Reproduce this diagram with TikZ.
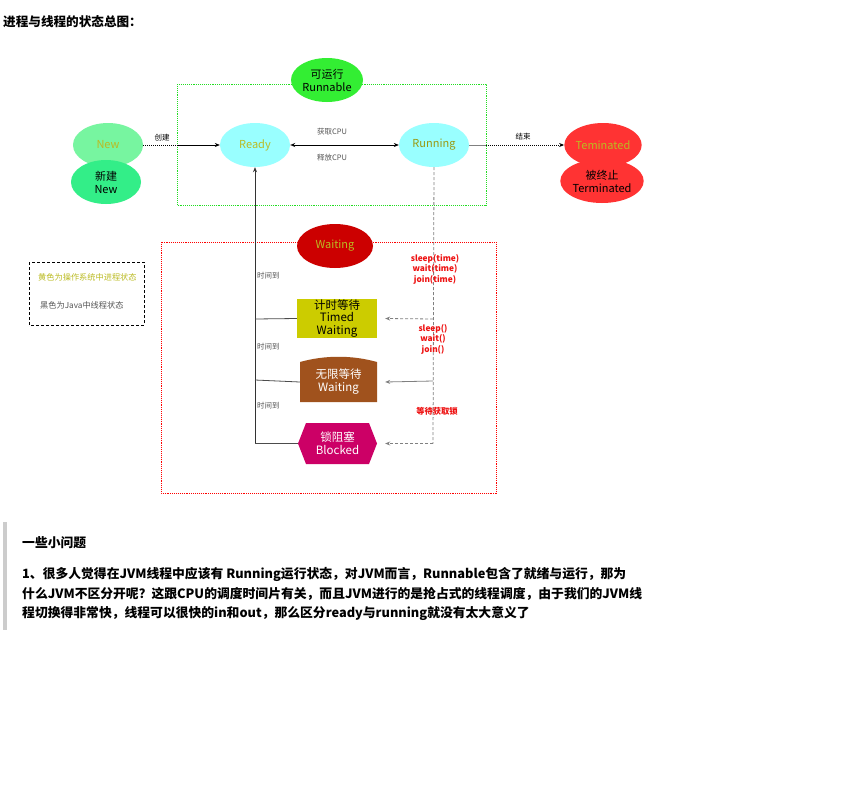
\documentclass[tikz,border=0pt]{standalone}
\usepackage{fontspec}
\setmainfont{Noto Sans CJK SC}
\usetikzlibrary{arrows.meta,shapes.geometric}
\definecolor{boxgreen}{HTML}{22DD22}
\definecolor{runfill}{HTML}{33EE33}
\definecolor{newfill}{HTML}{77F5A0}
\definecolor{newfillb}{HTML}{33EE88}
\definecolor{cyanfill}{HTML}{99FFFF}
\definecolor{termfill}{HTML}{FF3333}
\definecolor{waitfill}{HTML}{CC0000}
\definecolor{timedfill}{HTML}{CCCC00}
\definecolor{brownfill}{HTML}{A0521D}
\definecolor{blockfill}{HTML}{CC0066}
\definecolor{olive}{HTML}{BBBB22}
\definecolor{olivedark}{HTML}{999911}
\definecolor{redtxt}{HTML}{EE1111}
\definecolor{graytxt}{HTML}{555555}
\tikzset{
  stateell/.style={ellipse, draw=none, minimum width=70pt, minimum height=44pt, inner sep=0pt, align=center, font=\fontsize{11}{13}\selectfont},
  smalllbl/.style={font=\fontsize{7.5}{9}\selectfont, text=graytxt, inner sep=1pt},
  redlbl/.style={font=\fontsize{8.3}{10.5}\selectfont\bfseries, text=redtxt, align=center, inner sep=1pt},
  para/.style={anchor=west, font=\fontsize{12.8}{14}\selectfont\bfseries, inner sep=0pt},
  tipA/.style={-{Stealth[length=5pt,width=4pt]}},
  boxtxt/.style={inner sep=0pt, align=center, font=\fontsize{11.5}{13}\selectfont},
}
\begin{document}
\begin{tikzpicture}[x=1pt,y=-1pt]
\useasboundingbox (0,0) rectangle (845,787);
\fill[white] (0,0) rectangle (845,787);

% title
\node[anchor=west, font=\fontsize{12.6}{14}\selectfont\bfseries, inner sep=0pt] (title) at (3,22) {进程与线程的状态总图：};

% group boxes
\draw[boxgreen, densely dotted, line width=0.9pt] (177,84) rectangle (486,205);
\draw[red, densely dotted, line width=0.9pt] (161,242) rectangle (496,493);

% Runnable
\node[stateell, fill=runfill, minimum width=72pt] (runnable) at (327,80) {可运行\\Runnable};

% New
\node[stateell, fill=newfill] (new) at (108,145) {\textcolor{olive}{New}};
\node[stateell, fill=newfillb] (newb) at (106,182) {新建\\New};

% Ready, Running
\node[stateell, fill=cyanfill] (ready) at (255,145) {\textcolor{olive}{Ready}};
\node[stateell, fill=cyanfill] (running) at (434,145) {\textcolor{olivedark}{Running}};

% Terminated
\node[stateell, fill=termfill] (term) at (603,145) {\textcolor{olive}{Teminated}};
\node[stateell, fill=termfill] (termb) at (602,181) {被终止\\Terminated};

% Waiting
\node[stateell, fill=waitfill, minimum width=76pt] (waiting) at (335,246) {\textcolor{olive}{Waiting}};

% Timed waiting
\node[boxtxt, fill=timedfill, minimum width=80pt, minimum height=39pt, font=\fontsize{11.5}{12.5}\selectfont] (timed) at (337,318.5) {计时等待\\Timed\\Waiting};

% Waiting (brown, curved top)
\fill[brownfill] (300,402) -- (300,362) .. controls (325,355) and (352,355) .. (377,362) -- (377,402) -- cycle;
\node[boxtxt, minimum width=77pt, minimum height=40pt, text=white] (inf) at (338.5,382) {无限等待\\Waiting};

% Blocked hexagon
\fill[blockfill] (298,443.5) -- (306,423) -- (369,423) -- (377,443.5) -- (369,464) -- (306,464) -- cycle;
\node[boxtxt, minimum width=79pt, minimum height=41pt, text=white] (blocked) at (337.5,443.5) {锁阻塞\\Blocked};

% connectors: New -> Ready
\coordinate (gL) at (177,145);
\draw[densely dotted, line width=1pt] (new.east) -- (gL);
\draw[tipA, line width=0.6pt] (gL) -- (ready.west);
\node[smalllbl, text=black] (lnew) at (162,138) {创建};

% Ready <-> Running
\draw[{Stealth[length=5pt,width=4pt,open]}-{Stealth[length=5pt,width=4pt]}, line width=0.6pt] (ready.east) -- (running.west);
\node[smalllbl] (lget) at (332,132) {获取CPU};
\node[smalllbl] (lrel) at (332,158) {释放CPU};

% Running -> Terminated
\coordinate (gR) at (486,145);
\draw[line width=0.6pt, gray] (running.east) -- (gR);
\draw[densely dotted, line width=1pt, -{Stealth[length=5pt,width=4pt]}] (gR) -- (term.west);
\node[smalllbl, text=black] (lend) at (523,137) {结束};

% left return line
\coordinate (lb) at (255,443.5);
\coordinate (l1) at (255,319);
\coordinate (l2) at (255,380);
\draw[tipA, line width=0.6pt, black!80] (lb) -- (ready.south);
\draw[line width=0.8pt, black!70] (timed.west) -- (l1);
\draw[line width=0.8pt, black!70] (inf.west) -- (l2);
\draw[line width=0.8pt, black!70] (blocked.west) -- (lb);
\node[smalllbl, anchor=west] (t1) at (256,276) {时间到};
\node[smalllbl, anchor=west] (t2) at (256,347) {时间到};
\node[smalllbl, anchor=west] (t3) at (256,406) {时间到};

% right line from Running
\coordinate (rb) at (433,443.5);
\coordinate (r1) at (433,319);
\coordinate (r2) at (433,381);
\draw[densely dashed, gray, line width=0.8pt] (running.south) -- (rb);
\draw[gray, densely dashed, line width=0.8pt, -{Stealth[length=5pt,width=4pt]}] (r1) -- ([xshift=8pt]timed.east);
\draw[gray, line width=0.8pt, -{Stealth[length=5pt,width=4pt]}] (r2) -- ([xshift=8pt]inf.east);
\draw[gray, densely dashed, line width=0.8pt, -{Stealth[length=5pt,width=4pt]}] (rb) -- ([xshift=8pt]blocked.east);
\node[redlbl] (s1) at (435,269) {sleep(time)\\wait(time)\\join(time)};
\node[redlbl] (s2) at (433,339) {sleep()\\wait()\\join()};
\node[redlbl] (s3) at (437,411) {等待获取锁};

% legend
\draw[densely dashed, line width=0.6pt] (29,262) rectangle (144,325);
\node[font=\fontsize{8.2}{9}\selectfont, text=olive, anchor=west, inner sep=0pt] (leg1) at (38,277) {黄色为操作系统中进程状态};
\node[font=\fontsize{8.2}{9}\selectfont, text=graytxt, anchor=west, inner sep=0pt] (leg2) at (40,305) {黑色为Java中线程状态};

% quote bar
\fill[black!20] (3,522) rectangle (7,630);

% notes
\node[para] (h) at (22,543) {一些小问题};
\node[para] (p1) at (22,574) {1、很多人觉得在JVM线程中应该有 Running运行状态，对JVM而言，Runnable包含了就绪与运行，那为};
\node[para] (p2) at (22,594) {什么JVM不区分开呢？这跟CPU的调度时间片有关，而且JVM进行的是抢占式的线程调度，由于我们的JVM线};
\node[para] (p3) at (22,613) {程切换得非常快，线程可以很快的in和out，那么区分ready与running就没有太大意义了};
\end{tikzpicture}
\end{document}
